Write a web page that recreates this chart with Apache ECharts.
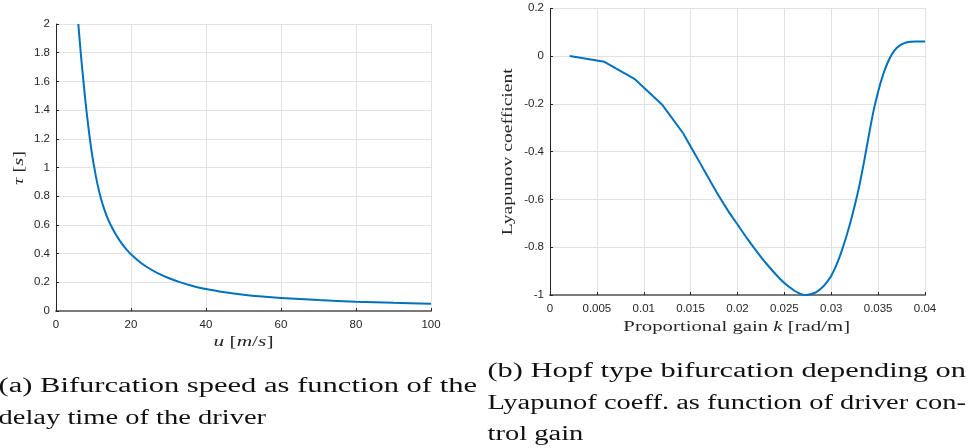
<!DOCTYPE html>
<html>
<head>
<meta charset="utf-8">
<script src="https://cdn.jsdelivr.net/npm/echarts@6/dist/echarts.min.js"></script>
<style>
  html, body { margin: 0; padding: 0; background: #fff; }
  #chart { width: 973px; height: 448px; }
</style>
</head>
<body>
<div id="chart"></div>
<script>
// (a) bifurcation speed: delay time tau [s] against speed u [m/s]
const speedU = [5.95, 6.5, 7, 7.5, 8, 8.5, 9, 9.5, 10, 11, 12, 13, 14, 15, 16, 17, 18, 19, 20,
  22.5, 25, 27.5, 30, 33, 36, 40, 45, 50, 55, 60, 70, 80, 90, 100];
const delayTau = [2.0, 1.83, 1.686, 1.553, 1.425, 1.312, 1.206, 1.113, 1.03, 0.891, 0.783, 0.70,
  0.632, 0.578, 0.531, 0.49, 0.454, 0.423, 0.395, 0.338, 0.2945, 0.259, 0.23, 0.2015, 0.1783,
  0.153, 0.1304, 0.1132, 0.1005, 0.091, 0.0763, 0.065, 0.0569, 0.05];
const uTicks = [0, 20, 40, 60, 80, 100];
const tauTicks = [0, 0.2, 0.4, 0.6, 0.8, 1, 1.2, 1.4, 1.6, 1.8, 2];

// (b) Lyapunov coefficient against proportional gain k [rad/m]
const gainK = [0.0021, 0.0058, 0.009, 0.012, 0.0142, 0.015, 0.016, 0.017, 0.018, 0.019, 0.02,
  0.021, 0.022, 0.023, 0.024, 0.025, 0.026, 0.0266, 0.0272, 0.0278, 0.0284, 0.029, 0.0296,
  0.03, 0.0305, 0.031, 0.0315, 0.032, 0.0325, 0.033, 0.0335, 0.034, 0.0345, 0.035, 0.0355,
  0.036, 0.0365, 0.037, 0.0375, 0.038, 0.0385, 0.039, 0.04];
const lyapunovCoeff = [0, -0.024, -0.095, -0.205, -0.323, -0.378, -0.447, -0.517, -0.585, -0.648,
  -0.705, -0.762, -0.815, -0.865, -0.91, -0.95, -0.98, -0.993, -1.0, -0.997, -0.988, -0.970,
  -0.943, -0.919, -0.879, -0.829, -0.769, -0.7015, -0.6265, -0.5415, -0.4415, -0.334, -0.2315,
  -0.149, -0.0815, -0.029, 0.0095, 0.035, 0.049, 0.057, 0.060, 0.061, 0.061];
// the low-gain end of the computed curve is made of straight pieces up to this index
const kPolylineEnd = 4;
const kTicks = [0, 0.005, 0.01, 0.015, 0.02, 0.025, 0.03, 0.035, 0.04];
const lyapTicks = [-1, -0.8, -0.6, -0.4, -0.2, 0, 0.2];

// Captions, one entry per printed line
const captionA = ['(a) Bifurcation speed as function of the', 'delay time of the driver'];
const captionB = ['(b) Hopf type bifurcation depending on', 'Lyapunof coeff. as function of driver con-', 'trol gain'];

const SANS = '"Liberation Sans", Arial, Helvetica, sans-serif';
const SERIF = '"Liberation Serif", "Times New Roman", serif';
const INK = '#262626';
const LINE_BLUE = '#0072BD';

const measureCtx = document.createElement('canvas').getContext('2d');
function measureSegs(segs, size, family) {
  let w = 0;
  for (const [t, it] of segs) {
    measureCtx.font = (it ? 'italic ' : '') + size + 'px ' + family;
    w += measureCtx.measureText(t).width;
  }
  return w;
}

// Serif text block; segs = [[text, italic], ...]; stretched to the given width (or scale)
function serifText(segs, opt) {
  const size = opt.size;
  const natural = measureSegs(segs, size, SERIF);
  const scale = opt.width ? opt.width / natural : (opt.scale || 1);
  const rich = {
    n: { fontFamily: SERIF, fontSize: size, fill: opt.color || INK },
    i: { fontFamily: SERIF, fontSize: size, fontStyle: 'italic', fill: opt.color || INK }
  };
  const text = segs.map(([t, it]) => (it ? '{i|' : '{n|') + t + '}').join('');
  return {
    el: {
      type: 'text',
      x: opt.x, y: opt.y,
      rotation: opt.rotation || 0,
      scaleX: scale, scaleY: 1,
      silent: true,
      style: {
        text: text, rich: rich,
        fontFamily: SERIF, fontSize: size,
        fill: opt.color || INK,
        align: opt.align || 'left', textAlign: opt.align || 'left',
        verticalAlign: 'middle', textVerticalAlign: 'middle'
      }
    },
    scale: scale
  };
}

function roundLabel(v) { return String(+v.toFixed(4)); }

function valueAxis(ticks, gridIndex, labelMargin) {
  return {
    type: 'value',
    gridIndex: gridIndex,
    min: ticks[0],
    max: ticks[ticks.length - 1],
    interval: +(ticks[1] - ticks[0]).toFixed(6),
    axisLine: { show: true, onZero: false, lineStyle: { color: INK, width: 1 } },
    axisTick: { show: true, inside: true, length: 3, lineStyle: { color: INK, width: 1 } },
    axisLabel: {
      show: true, margin: labelMargin, color: INK,
      fontFamily: SANS, fontSize: 11.5,
      formatter: roundLabel
    },
    splitLine: { show: true, lineStyle: { color: '#e2e2e2', width: 1 } }
  };
}

const xA = valueAxis(uTicks, 0, 8);
xA.axisLine.lineStyle = { color: '#7a7a7a', width: 2 };
const yA = valueAxis(tauTicks, 0, 6);
const xB = valueAxis(kTicks, 1, 8);
xB.axisLine.lineStyle = { color: '#7a7a7a', width: 2 };
const yB = valueAxis(lyapTicks, 1, 6);

// caption lines: justified lines stretched to the column width
const COL_W = 478.5;
const capB1 = serifText([[captionB[0], false]], { size: 21.6, x: 487.5, y: 371, width: COL_W, color: '#111' });
const capB2 = serifText([[captionB[1], false]], { size: 21.6, x: 487.5, y: 403, width: COL_W, color: '#111' });
const capScale = capB2.scale;
const capB3 = serifText([[captionB[2], false]], { size: 21.6, x: 487.5, y: 434.5, scale: capScale, color: '#111' });
const capA1 = serifText([[captionA[0], false]], { size: 21.6, x: -1.5, y: 386, width: COL_W, color: '#111' });
const capA2 = serifText([[captionA[1], false]], { size: 21.6, x: -1.5, y: 418, scale: capScale, color: '#111' });

// axis titles
const titleU = serifText([['u', true], [' [', false], ['m', true], ['/', false], ['s', true], [']', false]],
  { size: 14, x: 243.5, y: 342.5, width: 60, align: 'center' });
const titleTau = serifText([['τ', true], [' [', false], ['s', true], [']', false]],
  { size: 14, x: 19, y: 168, width: 34, align: 'center', rotation: Math.PI / 2 });
const titleLyap = serifText([['Lyapunov coefficient', false]],
  { size: 15, x: 508, y: 151.7, width: 167, align: 'center', rotation: Math.PI / 2 });
const titleK = serifText([['Proportional gain ', false], ['k', true], [' [rad/m]', false]],
  { size: 15, x: 736.7, y: 327.5, width: 226.7, align: 'center' });

const lyapPairs = gainK.map((k, i) => [k, lyapunovCoeff[i]]);
const curveStyle = { color: LINE_BLUE, width: 2 };

const option = {
  animation: false,
  backgroundColor: '#ffffff',
  grid: [
    { left: 56, top: 24, width: 375, height: 287 },
    { left: 550, top: 8.3, width: 375, height: 286.7 }
  ],
  xAxis: [xA, xB],
  yAxis: [yA, yB],
  series: [
    {
      type: 'line', xAxisIndex: 0, yAxisIndex: 0,
      data: speedU.map((u, i) => [u, delayTau[i]]),
      showSymbol: false, smooth: 0.3,
      lineStyle: curveStyle, itemStyle: { color: LINE_BLUE },
      silent: true
    },
    {
      // straight pieces at low gain
      type: 'line', xAxisIndex: 1, yAxisIndex: 1,
      data: lyapPairs.slice(0, kPolylineEnd + 1),
      showSymbol: false, smooth: false,
      lineStyle: curveStyle, itemStyle: { color: LINE_BLUE },
      silent: true
    },
    {
      // smooth remainder of the curve
      type: 'line', xAxisIndex: 1, yAxisIndex: 1,
      data: lyapPairs.slice(kPolylineEnd),
      showSymbol: false, smooth: 0.3,
      lineStyle: curveStyle, itemStyle: { color: LINE_BLUE },
      silent: true
    }
  ],
  graphic: [capA1.el, capA2.el, capB1.el, capB2.el, capB3.el,
    titleU.el, titleTau.el, titleLyap.el, titleK.el]
};

const chart = echarts.init(document.getElementById('chart'), null, { renderer: 'canvas' });
chart.setOption(option);
</script>
</body>
</html>
